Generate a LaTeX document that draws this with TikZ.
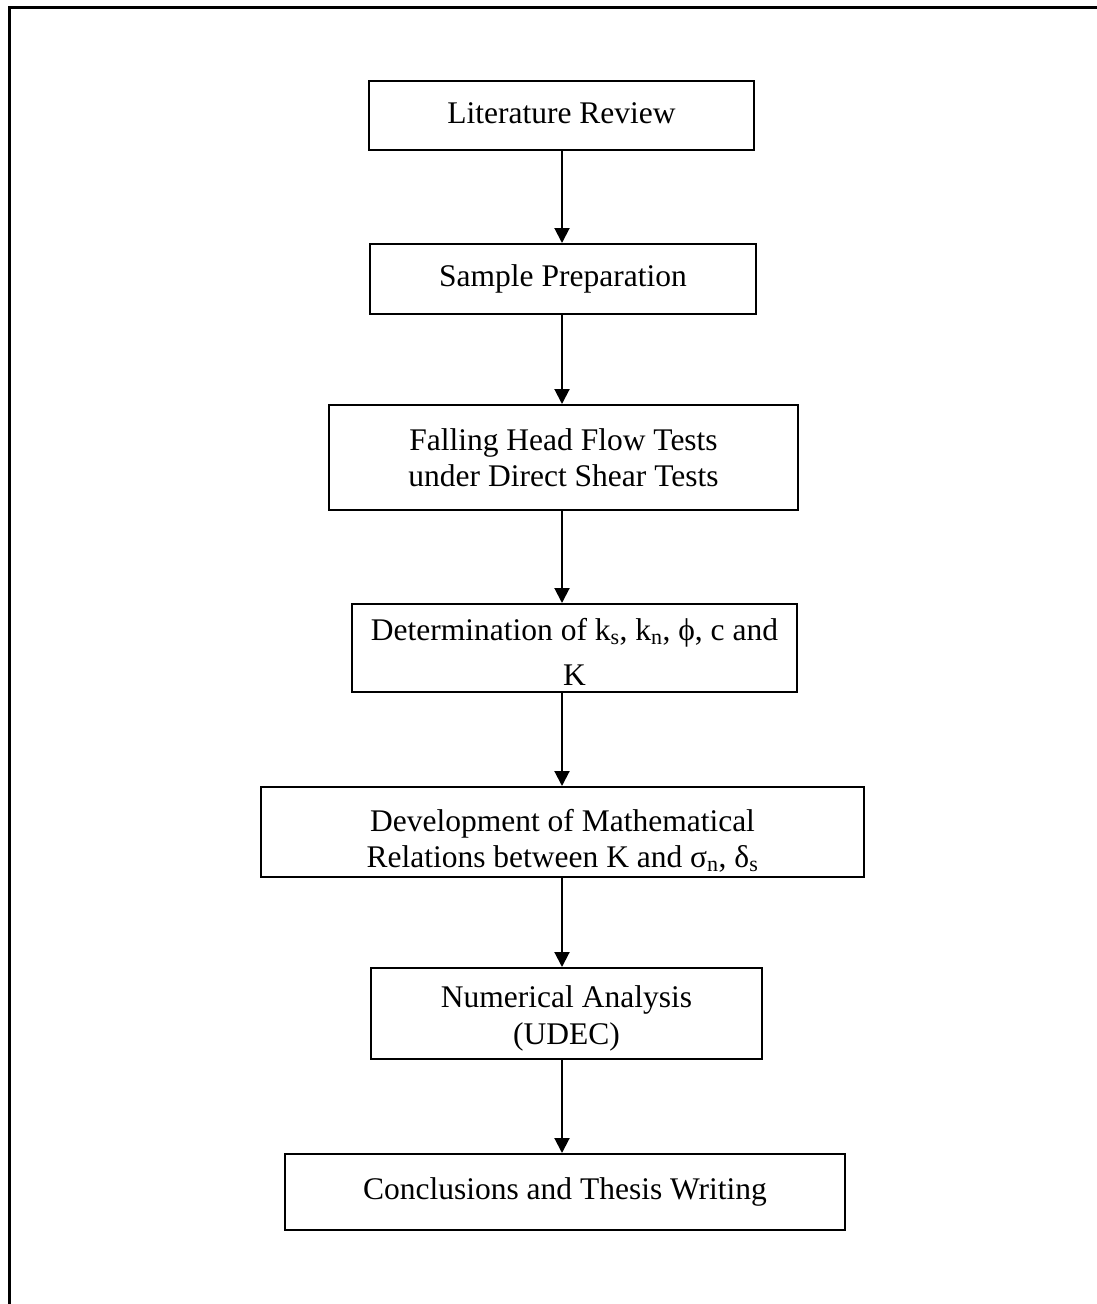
\documentclass[tikz,border=0pt]{standalone}
\usepackage{fontspec}
\setmainfont{Liberation Serif}
\usetikzlibrary{arrows.meta}
\newcommand\lowerby[2]{\raisebox{-#1}[\height][\depth]{#2}}
\begin{document}
\begin{tikzpicture}[x=1pt,y=-1pt,
  stepbox/.style={draw,line width=2pt,inner sep=0pt,align=center,
    font=\fontsize{31.5}{36.5}\selectfont},
  flow/.style={line width=2pt,-{Triangle[length=15pt,width=15pt]}},
  frameline/.style={line width=3pt}]
\useasboundingbox (0,0) rectangle (1096,1304);
\draw[frameline] (9.5,1310) -- (9.5,7.5) -- (1100,7.5);

\node[stepbox,minimum width=385pt,minimum height=69pt] (b1) at (561.5,115.5) {\lowerby{-2pt}{Literature Review}};
\node[stepbox,minimum width=386pt,minimum height=70pt] (b2) at (563,279) {Sample Preparation};
\node[stepbox,minimum width=469pt,minimum height=105pt] (b3) at (563.5,457.5) {Falling Head Flow Tests\\under Direct Shear Tests};
\node[stepbox,minimum width=445pt,minimum height=88pt] (b4) at (574.5,648) {\lowerby{4pt}{Determination of k\textsubscript{s}, k\textsubscript{n}, ϕ, c and}\\[8pt]\lowerby{4pt}{K}};
\node[stepbox,minimum width=603pt,minimum height=90pt] (b5) at (562.5,832) {\lowerby{9pt}{Development of Mathematical}\\\lowerby{9pt}{Relations between K and σ\textsubscript{n}, δ\textsubscript{s}}};
\node[stepbox,minimum width=391pt,minimum height=91pt] (b6) at (566.5,1013.5) {\lowerby{5pt}{Numerical Analysis}\\\lowerby{5pt}{(UDEC)}};
\node[stepbox,minimum width=560pt,minimum height=76pt] (b7) at (565,1192) {Conclusions and Thesis Writing};

\coordinate (ax) at (562,0);
\draw[flow] (b1.south -| ax) -- (b2.north -| ax);
\draw[flow] (b2.south -| ax) -- (b3.north -| ax);
\draw[flow] (b3.south -| ax) -- (b4.north -| ax);
\draw[flow] (b4.south -| ax) -- (b5.north -| ax);
\draw[flow] (b5.south -| ax) -- (b6.north -| ax);
\draw[flow] (b6.south -| ax) -- (b7.north -| ax);
\end{tikzpicture}
\end{document}
